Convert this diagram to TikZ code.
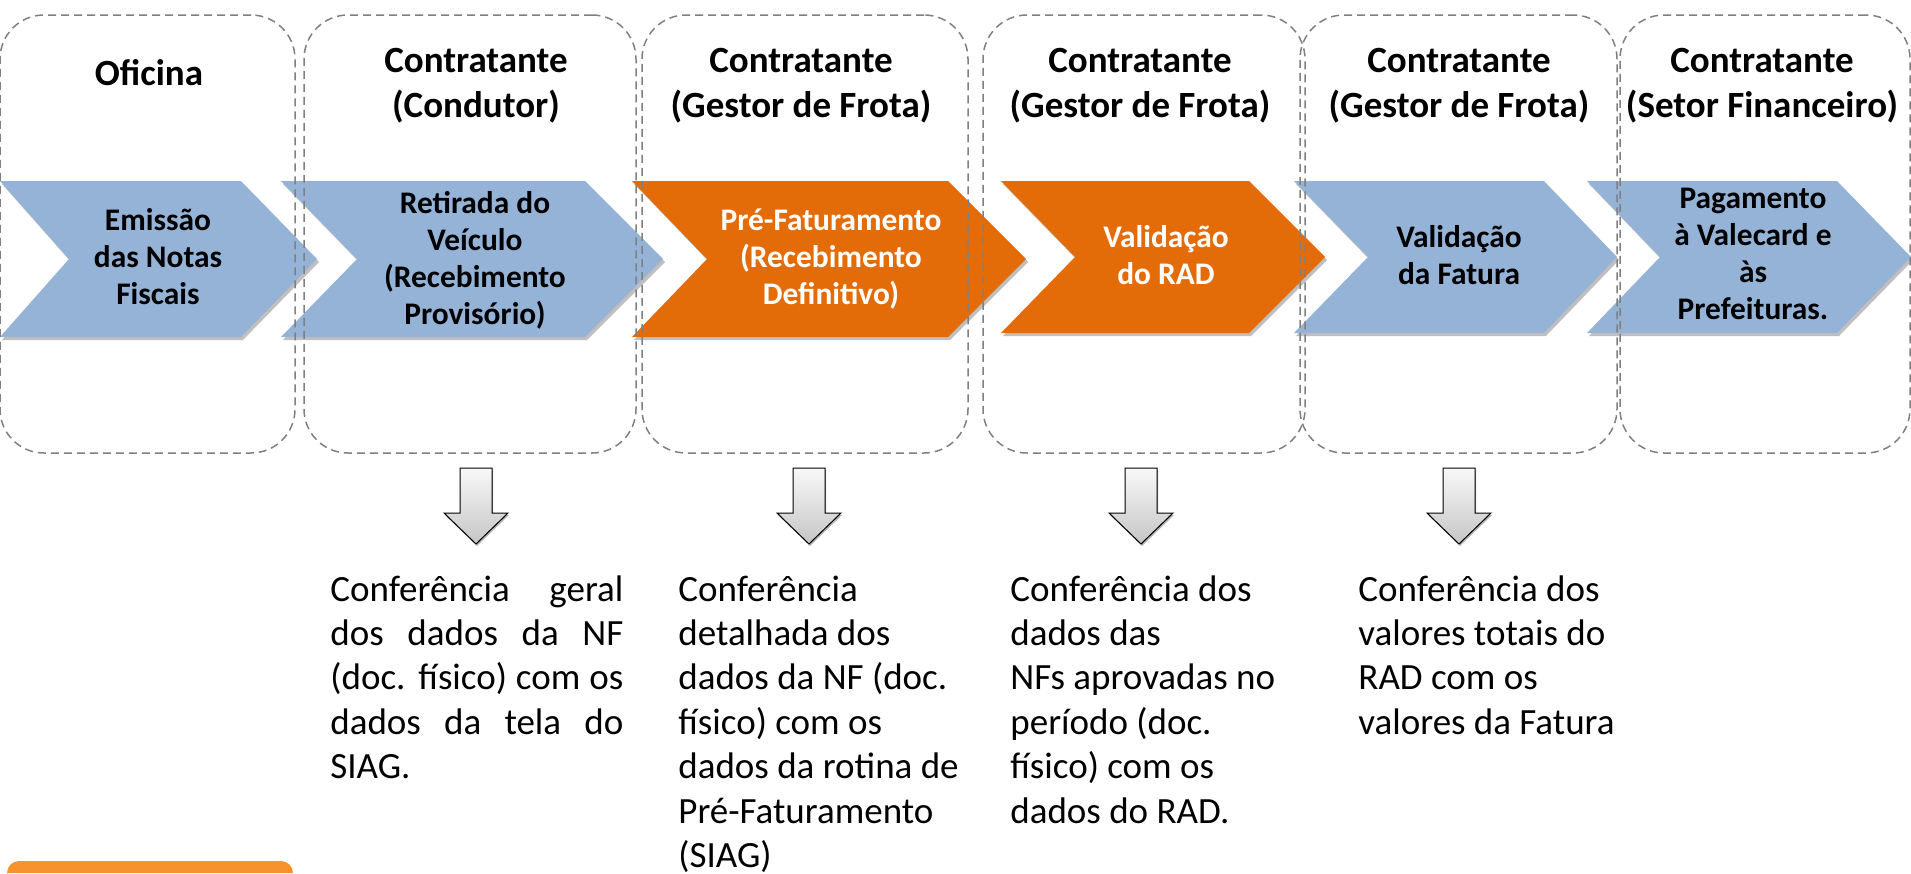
\documentclass[tikz,border=0pt]{standalone}
\usepackage{xcolor}
\usepackage{fontspec}
\setmainfont{Carlito}
\usepackage{tikz}
\usetikzlibrary{shapes.geometric, shadows}

\definecolor{chevblue}{RGB}{149,179,215}
\definecolor{chevorange}{RGB}{227,108,9}
\definecolor{lanegray}{RGB}{128,128,128}
\definecolor{notebar}{RGB}{247,146,46}

\begin{document}
\begin{tikzpicture}[x=0.5pt, y=-0.5pt]
\tikzstyle{lane} = [rectangle, draw=lanegray, line width=0.75pt, dash pattern=on 4pt off 2.5pt, rounded corners=22pt, minimum height=219pt, inner sep=0pt]
\tikzstyle{chev} = [drop shadow={shadow xshift=1pt, shadow yshift=-1.5pt, opacity=0.25, fill=black}]
\tikzstyle{chevtext} = [align=center, inner sep=0pt, font=\fontsize{15.7}{18.5}\selectfont\bfseries]
\tikzstyle{head} = [text width=170pt, align=flush center, anchor=base, inner sep=0pt, font=\fontsize{18.5}{22.5}\selectfont\bfseries]
\tikzstyle{note} = [text width=150pt, align=flush left, anchor=base west, inner sep=0pt, font=\fontsize{18.5}{22.2}\selectfont]
\tikzstyle{downarrow} = [draw=black, line width=0.5pt, top color=gray!5, bottom color=gray!45, drop shadow={shadow xshift=0.5pt, shadow yshift=-1pt, opacity=0.3, fill=black}]

\useasboundingbox (0,0) rectangle (1911,873);

% process chevrons
\fill[chevblue, chev] (0,181) -- (241,181) -- (317,259) -- (241,337) -- (0,337) -- (69,259) -- cycle;
\fill[chevblue, chev] (281,181) -- (585,181) -- (663,259) -- (585,337) -- (281,337) -- (357,259) -- cycle;
\fill[chevorange, chev] (632,181) -- (948,181) -- (1026,259) -- (948,337) -- (632,337) -- (707,259) -- cycle;
\fill[chevorange, chev] (1001,181) -- (1249,181) -- (1325,257) -- (1249,333) -- (1001,333) -- (1075,257) -- cycle;
\fill[chevblue, chev] (1294,181) -- (1544,181) -- (1617,257) -- (1544,333) -- (1294,333) -- (1368,257) -- cycle;
\fill[chevblue, chev] (1587,181) -- (1837,181) -- (1911,257) -- (1837,333) -- (1587,333) -- (1660,257) -- cycle;

% swimlanes
\node (oficina) [lane, minimum width=147.5pt] at (147.5,234) {};
\node (condutor) [lane, minimum width=166pt] at (470,234) {};
\node (gestor1) [lane, minimum width=163pt] at (805,234) {};
\node (gestor2) [lane, minimum width=161pt] at (1144,234) {};
\node (gestor3) [lane, minimum width=158.5pt] at (1458.5,234) {};
\node (financeiro) [lane, minimum width=145pt] at (1765,234) {};

\node (hoficina) [head] at (149,85) {Oficina};
\node (hcondutor) [head] at (476,72) {Contratante\\(Condutor)};
\node (hgestor1) [head] at (801,72) {Contratante\\(Gestor de Frota)};
\node (hgestor2) [head] at (1140,72) {Contratante\\(Gestor de Frota)};
\node (hgestor3) [head] at (1459,72) {Contratante\\(Gestor de Frota)};
\node (hfinanceiro) [head] at (1762,72) {Contratante\\(Setor Financeiro)};

\node (emissao) [chevtext] at (158,257) {Emissão\\das Notas\\Fiscais};
\node (retirada) [chevtext] at (475,260) {Retirada do\\Veículo\\(Recebimento\\Provisório)};
\node (prefat) [chevtext, text=white] at (831,259) {Pré-Faturamento\\(Recebimento\\Definitivo)};
\node (valrad) [chevtext, text=white] at (1166,255) {Validação\\do RAD};
\node (valfatura) [chevtext] at (1459,255) {Validação\\da Fatura};
\node (pagamento) [chevtext] at (1753,254) {Pagamento\\à Valecard e\\às\\Prefeituras.};

% checks below the lanes
\foreach \c in {476,809,1141,1459}
  \draw[downarrow] (\c-16,468) -- (\c+16,468) -- (\c+16,513) -- (\c+32,513) -- (\c,544) -- (\c-32,513) -- (\c-16,513) -- cycle;

\node (nota1) [note, text width=146.5pt, align=justify] at (330,601) {Conferência geral\linebreak dos dados da NF\linebreak (doc. físico) com os\linebreak dados da tela do\linebreak SIAG.};
\node (nota2) [note] at (678,601) {Conferência\\detalhada dos\\dados da NF (doc.\\físico) com os\\dados da rotina de\\Pré-Faturamento\\(SIAG)};
\node (nota3) [note] at (1010,601) {Conferência dos\\dados das\\NFs aprovadas no\\período (doc.\\físico) com os\\dados do RAD.};
\node (nota4) [note] at (1358,601) {Conferência dos\\valores totais do\\RAD com os\\valores da Fatura};

\fill[notebar] (7,873) arc[start angle=180, end angle=90, radius=6pt] -- (281,861) arc[start angle=90, end angle=0, radius=6pt] -- cycle;
\end{tikzpicture}
\end{document}
